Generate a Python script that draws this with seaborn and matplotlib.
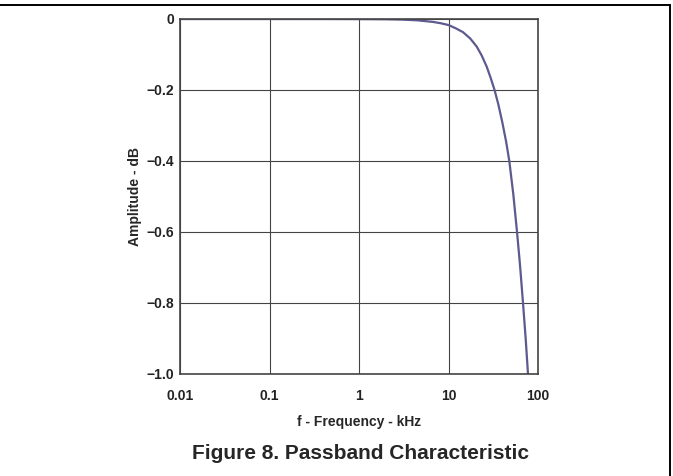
import matplotlib
matplotlib.use("Agg")
import matplotlib.pyplot as plt
from matplotlib.lines import Line2D
import seaborn as sns

# --- data ---
freq_khz = [0.01, 0.1, 0.5, 1, 2, 3, 4.5, 6.7, 8.2, 10, 12, 14.5, 17.5, 20.7,
            23.5, 26.7, 29.5, 32.7, 36, 40, 44, 47.8, 53, 58.3, 63, 68, 73, 77.3]
amp_db = [0.0, 0.0, -0.0001, -0.0003, -0.0008, -0.0017, -0.0038, -0.0082,
          -0.012, -0.017, -0.026, -0.037, -0.055, -0.078, -0.103, -0.134,
          -0.165, -0.2, -0.24, -0.292, -0.345, -0.4, -0.494, -0.6, -0.694,
          -0.8, -0.904, -1.0]

x_ticks = [0.01, 0.1, 1, 10, 100]
x_tick_labels = ["0.01", "0.1", "1", "10", "100"]
y_ticks = [0, -0.2, -0.4, -0.6, -0.8, -1.0]
y_tick_labels = ["0", "\u22120.2", "\u22120.4", "\u22120.6", "\u22120.8", "\u22121.0"]

# --- style ---
sns.set_style("white")
plt.rcParams["font.family"] = ["Liberation Sans", "DejaVu Sans"]
plt.rcParams["font.weight"] = "bold"

fig = plt.figure(figsize=(6.73, 4.76), dpi=100)
ax = fig.add_axes([0.2675, 0.2143, 0.5319, 0.7458])
ax.set_xscale("log")

sns.lineplot(x=freq_khz, y=amp_db, ax=ax, color="#5c5a8e", linewidth=1.6,
             sort=False, estimator=None)

ax.set_xlim(0.01, 100)
ax.set_ylim(-1.0, 0)
ax.set_xticks(x_ticks)
ax.set_xticklabels(x_tick_labels, fontsize=10, fontweight="bold")
ax.set_yticks(y_ticks)
ax.set_yticklabels(y_tick_labels, fontsize=10, fontweight="bold")
ax.minorticks_off()
ax.tick_params(axis="x", length=0, pad=10.5, colors="#222222")
ax.tick_params(axis="y", length=0, pad=4.3, colors="#222222")

ax.grid(True, color="#444444", linewidth=0.8)
for s in ax.spines.values():
    s.set_visible(True)
    s.set_color("#444444")
    s.set_linewidth(1.2)

ax.set_xlabel("f - Frequency - kHz", fontsize=10, fontweight="bold", labelpad=9)
ax.set_ylabel("Amplitude - dB", fontsize=10, fontweight="bold", labelpad=3)

fig.text(0.535, 0.047, "Figure 8. Passband Characteristic", ha="center",
         va="center", fontsize=15, fontweight="bold")

# page frame lines (top and right)
fig.add_artist(Line2D([0, 670 / 673], [1 - 5 / 476, 1 - 5 / 476],
                      transform=fig.transFigure, color="black", linewidth=1.4))
fig.add_artist(Line2D([670 / 673, 670 / 673], [0, 1 - 5 / 476],
                      transform=fig.transFigure, color="black", linewidth=1.4))

fig.savefig("out.png", dpi=100)
